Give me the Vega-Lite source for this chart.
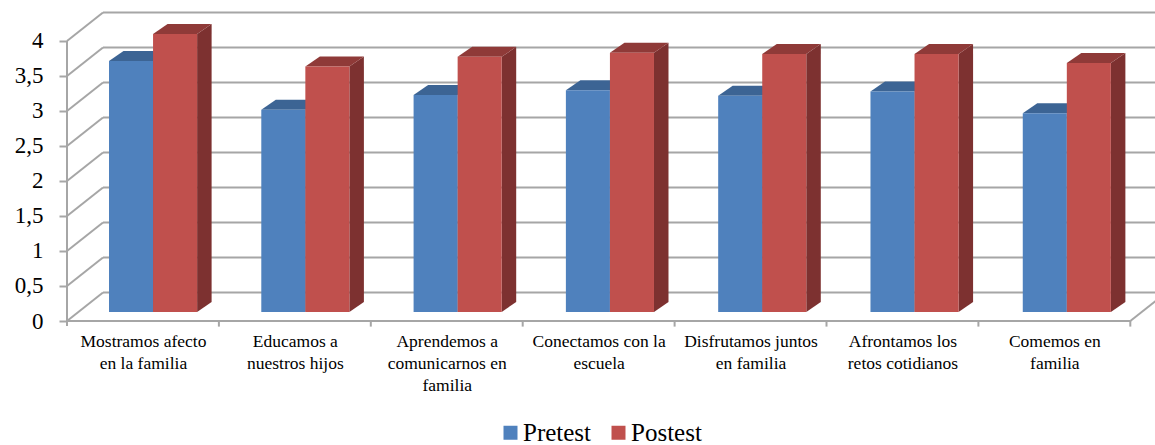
{
"$schema":"https://vega.github.io/schema/vega-lite/v6.json",
"width":1088,"height":313,
"autosize":{"type":"none"},
"padding":{"left":67,"top":8,"right":0,"bottom":124},
"background":"white",
"config":{"view":{"stroke":null},"font":"Liberation Serif"},
"data":{"values":[
{"categoria":"Mostramos afecto en la familia","serie":"Pretest","valor":3.61},
{"categoria":"Mostramos afecto en la familia","serie":"Postest","valor":4.0},
{"categoria":"Educamos a nuestros hijos","serie":"Pretest","valor":2.91},
{"categoria":"Educamos a nuestros hijos","serie":"Postest","valor":3.53},
{"categoria":"Aprendemos a comunicarnos en familia","serie":"Pretest","valor":3.12},
{"categoria":"Aprendemos a comunicarnos en familia","serie":"Postest","valor":3.67},
{"categoria":"Conectamos con la escuela","serie":"Pretest","valor":3.19},
{"categoria":"Conectamos con la escuela","serie":"Postest","valor":3.73},
{"categoria":"Disfrutamos juntos en familia","serie":"Pretest","valor":3.11},
{"categoria":"Disfrutamos juntos en familia","serie":"Postest","valor":3.71},
{"categoria":"Afrontamos los retos cotidianos","serie":"Pretest","valor":3.17},
{"categoria":"Afrontamos los retos cotidianos","serie":"Postest","valor":3.71},
{"categoria":"Comemos en familia","serie":"Pretest","valor":2.86},
{"categoria":"Comemos en familia","serie":"Postest","valor":3.58}
]},
"transform":[
{"calculate":"indexof(['Mostramos afecto en la familia','Educamos a nuestros hijos','Aprendemos a comunicarnos en familia','Conectamos con la escuela','Disfrutamos juntos en familia','Afrontamos los retos cotidianos','Comemos en familia'],datum.categoria)","as":"i"},
{"calculate":"datum.i*1.0026+0.2765+(datum.serie=='Postest'?0.29:0)","as":"xL"},
{"calculate":"datum.xL+0.29","as":"xR"},
{"calculate":"0.129","as":"yB"},
{"calculate":"0.129+datum.valor*0.993","as":"yT"},
{"calculate":"[0,1]","as":"k"},
{"flatten":["k"]},
{"calculate":"datum.xL+datum.k*0.0955","as":"topL"},
{"calculate":"datum.xR+datum.k*0.0955","as":"topR"},
{"calculate":"datum.yT+datum.k*0.143","as":"topY"},
{"calculate":"datum.yB+datum.k*0.143","as":"sideB"}
],
"encoding":{
 "x":{"type":"quantitative","scale":{"domain":[0,7.1626],"nice":false,"zero":false},
     "axis":{"title":null,"values":[0.5,1.5,2.5,3.5,4.5,5.5,6.5],"domain":false,"ticks":false,"grid":false,"labelPadding":11,"labelFontSize":17.5,"labelColor":"#000000","labelFont":"Liberation Serif","labelLineHeight":22,"labelBaseline":"top","labelAlign":"center","labelFlush":false,"labelOverlap":false,"labelBound":false,
     "labelExpr":"split(['Mostramos afecto|en la familia','Educamos a|nuestros hijos','Aprendemos a|comunicarnos en|familia','Conectamos con la|escuela','Disfrutamos juntos|en familia','Afrontamos los|retos cotidianos','Comemos en|familia'][floor(datum.value)],'|')"}},
 "y":{"type":"quantitative","scale":{"domain":[0,4.4714],"nice":false,"zero":false},
     "axis":{"title":null,"values":[0,0.5,1,1.5,2,2.5,3,3.5,4],"domain":false,"grid":false,"tickSize":8,"tickColor":"#A6A6A6","tickWidth":2,"labelPadding":16,"labelFontSize":23,"labelColor":"#000000","labelFont":"Liberation Serif","labelFlush":false,"labelOverlap":false,"labelExpr":"replace(format(datum.value,'.1~f'),'.',',')"}}
},
"layer":[
{"data":{"values":[{"v":0},{"v":0.5},{"v":1},{"v":1.5},{"v":2},{"v":2.5},{"v":3},{"v":3.5},{"v":4}]},
 "transform":[{"calculate":"datum.v+0.407","as":"vb"},{"calculate":"0","as":"a"},{"calculate":"0.237","as":"b"}],
 "mark":{"type":"rule","color":"#A6A6A6","strokeWidth":2},
 "encoding":{"x":{"field":"a"},"x2":{"field":"b"},"y":{"field":"v"},"y2":{"field":"vb"}}},
{"data":{"values":[{"v":0},{"v":0.5},{"v":1},{"v":1.5},{"v":2},{"v":2.5},{"v":3},{"v":3.5},{"v":4}]},
 "transform":[{"calculate":"datum.v+0.407","as":"vb"},{"calculate":"0.237","as":"b"},{"calculate":"7.17","as":"c"}],
 "mark":{"type":"rule","color":"#A6A6A6","strokeWidth":2},
 "encoding":{"x":{"field":"b"},"x2":{"field":"c"},"y":{"field":"vb"}}},
{"data":{"values":[{"x":0,"y":0,"x2":7,"y2":0},{"x":0,"y":0,"x2":0,"y2":4},{"x":7,"y":0,"x2":7.237,"y2":0.407},
 {"x":0,"y":0,"x2":0,"y2":-0.07},{"x":1,"y":0,"x2":1,"y2":-0.08},{"x":2,"y":0,"x2":2,"y2":-0.08},{"x":3,"y":0,"x2":3,"y2":-0.08},{"x":4,"y":0,"x2":4,"y2":-0.08},{"x":5,"y":0,"x2":5,"y2":-0.08},{"x":6,"y":0,"x2":6,"y2":-0.08},{"x":7,"y":0,"x2":7,"y2":-0.08}]},
 "mark":{"type":"rule","color":"#A6A6A6","strokeWidth":2},
 "encoding":{"x":{"field":"x"},"x2":{"field":"x2"},"y":{"field":"y"},"y2":{"field":"y2"}}},
{"mark":{"type":"area","orient":"vertical"},
 "encoding":{
  "x":{"field":"topR"},
  "y":{"field":"sideB","stack":null},
  "y2":{"field":"topY"},
  "detail":[{"field":"categoria"},{"field":"serie"}],
  "color":{"condition":{"test":"datum.serie=='Pretest'","value":"#3C6494"},"value":"#7D3130"}}},
{"mark":{"type":"area","orient":"horizontal"},
 "encoding":{
  "y":{"field":"topY"},
  "x":{"field":"topL","stack":null},
  "x2":{"field":"topR"},
  "detail":[{"field":"categoria"},{"field":"serie"}],
  "color":{"condition":{"test":"datum.serie=='Pretest'","value":"#3C6494"},"value":"#8F3A38"}}},
{"transform":[{"filter":"datum.k==0"}],
 "mark":{"type":"rect"},
 "encoding":{
  "x":{"field":"xL"},
  "x2":{"field":"xR"},
  "y":{"field":"yB"},
  "y2":{"field":"yT"},
  "color":{"field":"serie","type":"nominal","scale":{"domain":["Pretest","Postest"],"range":["#4F81BD","#C0504D"]},
   "legend":{"title":null,"orient":"none","legendX":431,"legendY":412,"direction":"horizontal","symbolType":"square","symbolSize":196,"symbolStrokeWidth":0,"labelFontSize":25,"labelFont":"Liberation Serif","labelColor":"#000000","labelOffset":0,"columnPadding":14,"padding":0}}}}
]
}
